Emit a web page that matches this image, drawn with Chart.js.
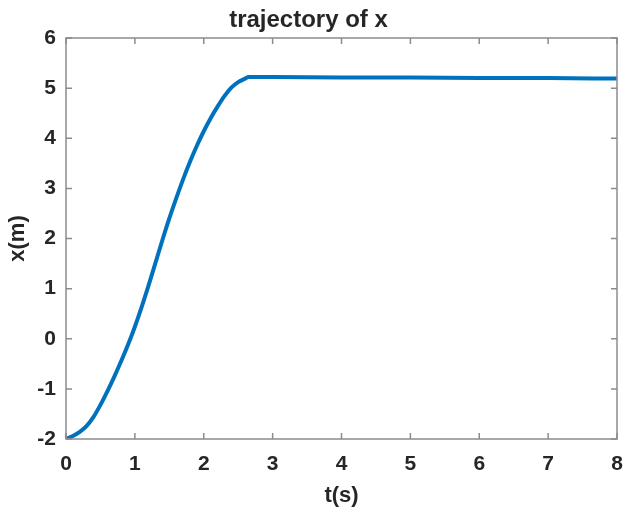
<!DOCTYPE html>
<html>
<head>
<meta charset="utf-8">
<script src="https://cdn.jsdelivr.net/npm/chart.js@4.4.0/dist/chart.umd.min.js"></script>
<style>
  html, body { margin: 0; padding: 0; background: #fff; }
  canvas { display: block; }
</style>
</head>
<body>
<canvas id="trajChart" width="624" height="509"></canvas>
<script>
// time samples (s) and position x (m)
const tValues = [0, 0.1, 0.2, 0.3, 0.4, 0.5, 0.6, 0.7, 0.8, 0.9, 1.0, 1.1, 1.2, 1.3, 1.4, 1.5, 1.6, 1.7, 1.8, 1.9, 2.0, 2.1, 2.2, 2.3, 2.4, 2.5, 2.6, 2.65, 3, 4, 5, 6, 7, 8];
const xValues = [-2.0, -1.94, -1.86, -1.74, -1.56, -1.32, -1.05, -0.76, -0.45, -0.12, 0.24, 0.64, 1.07, 1.52, 1.97, 2.4, 2.8, 3.18, 3.53, 3.85, 4.14, 4.4, 4.63, 4.84, 5.01, 5.12, 5.19, 5.22, 5.22, 5.21, 5.21, 5.2, 5.2, 5.19];

const xTicks = [0, 1, 2, 3, 4, 5, 6, 7, 8];
const yTicks = [-2, -1, 0, 1, 2, 3, 4, 5, 6];

const points = tValues.map((t, i) => ({ x: t, y: xValues[i] }));

const boxColor = "#8c8c8c";
const textColor = "#262626";
const fontFamily = "Liberation Sans, Arial, sans-serif";

// MATLAB style box with inward ticks on all four sides
const boxPlugin = {
    id: "boxPlugin",
    afterDatasetsDraw(chart) {
        const { ctx, chartArea: a, scales } = chart;
        const len = 6;
        ctx.save();
        ctx.strokeStyle = boxColor;
        ctx.lineWidth = 1.5;
        ctx.strokeRect(a.left, a.top, a.right - a.left, a.bottom - a.top);
        ctx.beginPath();
        xTicks.forEach(v => {
            const px = scales.x.getPixelForValue(v);
            ctx.moveTo(px, a.bottom); ctx.lineTo(px, a.bottom - len);
            ctx.moveTo(px, a.top); ctx.lineTo(px, a.top + len);
        });
        yTicks.forEach(v => {
            const py = scales.y.getPixelForValue(v);
            ctx.moveTo(a.left, py); ctx.lineTo(a.left + len, py);
            ctx.moveTo(a.right, py); ctx.lineTo(a.right - len, py);
        });
        ctx.stroke();
        ctx.restore();
    }
};

const ctx = document.getElementById("trajChart").getContext("2d");

new Chart(ctx, {
    type: "line",
    data: {
        datasets: [{
            label: "x",
            data: points,
            borderColor: "#0072BD",
            borderWidth: 4,
            pointRadius: 0,
            cubicInterpolationMode: "monotone",
            fill: false
        }]
    },
    options: {
        responsive: false,
        animation: false,
        layout: { padding: { left: 0, right: 7, top: 0, bottom: 0 } },
        plugins: {
            legend: { display: false },
            tooltip: { enabled: false },
            title: {
                display: true,
                text: "trajectory of x",
                color: textColor,
                font: { family: fontFamily, size: 24, weight: "bold" },
                padding: { top: 6, bottom: 3.2 }
            }
        },
        scales: {
            x: {
                type: "linear",
                min: 0,
                max: 8,
                afterFit: s => { s.height = 70; s.paddingLeft = 0; s.paddingRight = 0; },
                afterBuildTicks: s => { s.ticks = xTicks.map(v => ({ value: v })); },
                grid: { display: false, drawTicks: false },
                border: { display: false },
                ticks: {
                    color: textColor,
                    padding: 13,
                    font: { family: fontFamily, size: 21, weight: "bold" }
                },
                title: {
                    display: true,
                    text: "t(s)",
                    color: textColor,
                    font: { family: fontFamily, size: 22, weight: "bold" },
                    padding: { top: 0, bottom: 0 }
                }
            },
            y: {
                type: "linear",
                min: -2,
                max: 6,
                afterFit: s => { s.width = 66; s.paddingTop = 0; s.paddingBottom = 0; },
                afterBuildTicks: s => { s.ticks = yTicks.map(v => ({ value: v })); },
                grid: { display: false, drawTicks: false },
                border: { display: false },
                ticks: {
                    color: textColor,
                    padding: 10,
                    font: { family: fontFamily, size: 21, weight: "bold" }
                },
                title: {
                    display: true,
                    text: "x(m)",
                    color: textColor,
                    font: { family: fontFamily, size: 22, weight: "bold" },
                    padding: { top: 5, bottom: 0 }
                }
            }
        }
    },
    plugins: [boxPlugin]
});
</script>
</body>
</html>
